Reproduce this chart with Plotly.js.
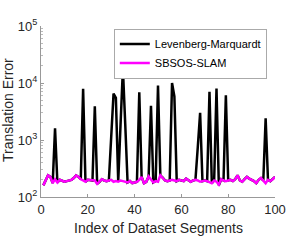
<!DOCTYPE html>
<html>
<head>
<meta charset="utf-8">
<script src="https://cdn.plot.ly/plotly-3.0.1.min.js"></script>
<style>html,body{margin:0;padding:0;background:#fff;}#chart{width:299px;height:244px;}</style>
</head>
<body>
<div id="chart"></div>
<script>
const segmentIndex = Array.from({length: 100}, (_, i) => i + 1);

const levenbergMarquardt = [
  160, 195, 240, 225, 175, 1600, 180, 200, 190, 185,
  190, 195, 200, 215, 240, 225, 205, 7900, 185, 200,
  200, 195, 3900, 170, 185, 205, 195, 190, 195, 1100,
  6500, 5500, 185, 1900, 18000, 1900, 180, 190, 175, 180,
  185, 6900, 225, 175, 185, 230, 4000, 180, 190, 9000,
  240, 220, 195, 190, 195, 10000, 5800, 190, 200, 195,
  190, 210, 200, 185, 195, 200, 750, 3000, 190, 195,
  190, 7000, 175, 195, 8000, 160, 205, 195, 6100, 195,
  200, 190, 205, 240, 195, 185, 205, 225, 210, 200,
  190, 175, 200, 215, 195, 2400, 200, 190, 205, 225
];

const sbsosSlam = [
  160, 195, 240, 225, 175, 205, 180, 200, 190, 185,
  190, 195, 200, 215, 240, 225, 205, 195, 185, 200,
  200, 195, 195, 170, 185, 205, 195, 190, 195, 200,
  185, 190, 185, 195, 190, 185, 180, 190, 175, 180,
  185, 200, 225, 175, 185, 230, 200, 180, 190, 185,
  240, 220, 195, 190, 195, 200, 195, 190, 200, 195,
  190, 210, 200, 185, 195, 200, 195, 185, 190, 195,
  190, 185, 175, 195, 185, 165, 205, 195, 190, 195,
  200, 190, 205, 240, 195, 185, 205, 225, 210, 200,
  190, 175, 200, 215, 195, 175, 200, 190, 205, 225
];

const xTickVals = [0, 20, 40, 60, 80, 100];
const yTickVals = [100, 1000, 10000, 100000];
const yTickText = ['10<sup>2</sup>', '10<sup>3</sup>', '10<sup>4</sup>', '10<sup>5</sup>'];
const xTitle = 'Index of Dataset Segments';
const yTitle = 'Translation Error';

const traces = [
  {x: segmentIndex, y: levenbergMarquardt, type: 'scatter', mode: 'lines',
   name: 'Levenberg-Marquardt', line: {color: '#000000', width: 2.5}},
  {x: segmentIndex, y: sbsosSlam, type: 'scatter', mode: 'lines',
   name: 'SBSOS-SLAM', line: {color: '#ff00ff', width: 2.5}}
];

const fontFam = '"Liberation Sans", Arial, Helvetica, sans-serif';
const layout = {
  width: 299, height: 244,
  margin: {l: 41, r: 24, t: 26, b: 47, pad: 0},
  paper_bgcolor: '#ffffff', plot_bgcolor: '#ffffff',
  font: {family: fontFam, color: '#262626', size: 13},
  showlegend: true,
  legend: {x: 0.965, y: 0.985, xanchor: 'right', yanchor: 'top',
    bgcolor: '#ffffff', bordercolor: '#aaaaaa', borderwidth: 1,
    font: {family: fontFam, size: 11, color: '#000000'},
    itemwidth: 30, tracegroupgap: 0},
  xaxis: {range: [0, 100], tickvals: xTickVals, ticks: 'inside', ticklen: 3,
    tickcolor: '#999999', showline: true, linecolor: '#999999', linewidth: 1,
    showgrid: false, zeroline: false, tickfont: {size: 13, color: '#262626'}},
  yaxis: {type: 'log', range: [2, 5], tickvals: yTickVals, ticktext: yTickText,
    ticks: 'inside', ticklen: 3, tickcolor: '#999999', showline: true,
    linecolor: '#999999', linewidth: 1, showgrid: false, zeroline: false,
    tickfont: {size: 13, color: '#262626'},
    minor: {ticks: 'inside', ticklen: 2, tickcolor: '#bbbbbb', dtick: 'D1', showgrid: false}},
  annotations: [
    {text: xTitle, xref: 'paper', yref: 'paper', x: 0.5, y: -0.181,
     xanchor: 'center', yanchor: 'middle', showarrow: false,
     font: {size: 14, color: '#262626'}},
    {text: yTitle, xref: 'paper', yref: 'paper', x: -0.141, y: 0.509,
     xanchor: 'center', yanchor: 'middle', showarrow: false, textangle: -90,
     font: {size: 14, color: '#262626'}}
  ]
};

Plotly.newPlot('chart', traces, layout, {displayModeBar: false, staticPlot: true});
</script>
</body>
</html>
